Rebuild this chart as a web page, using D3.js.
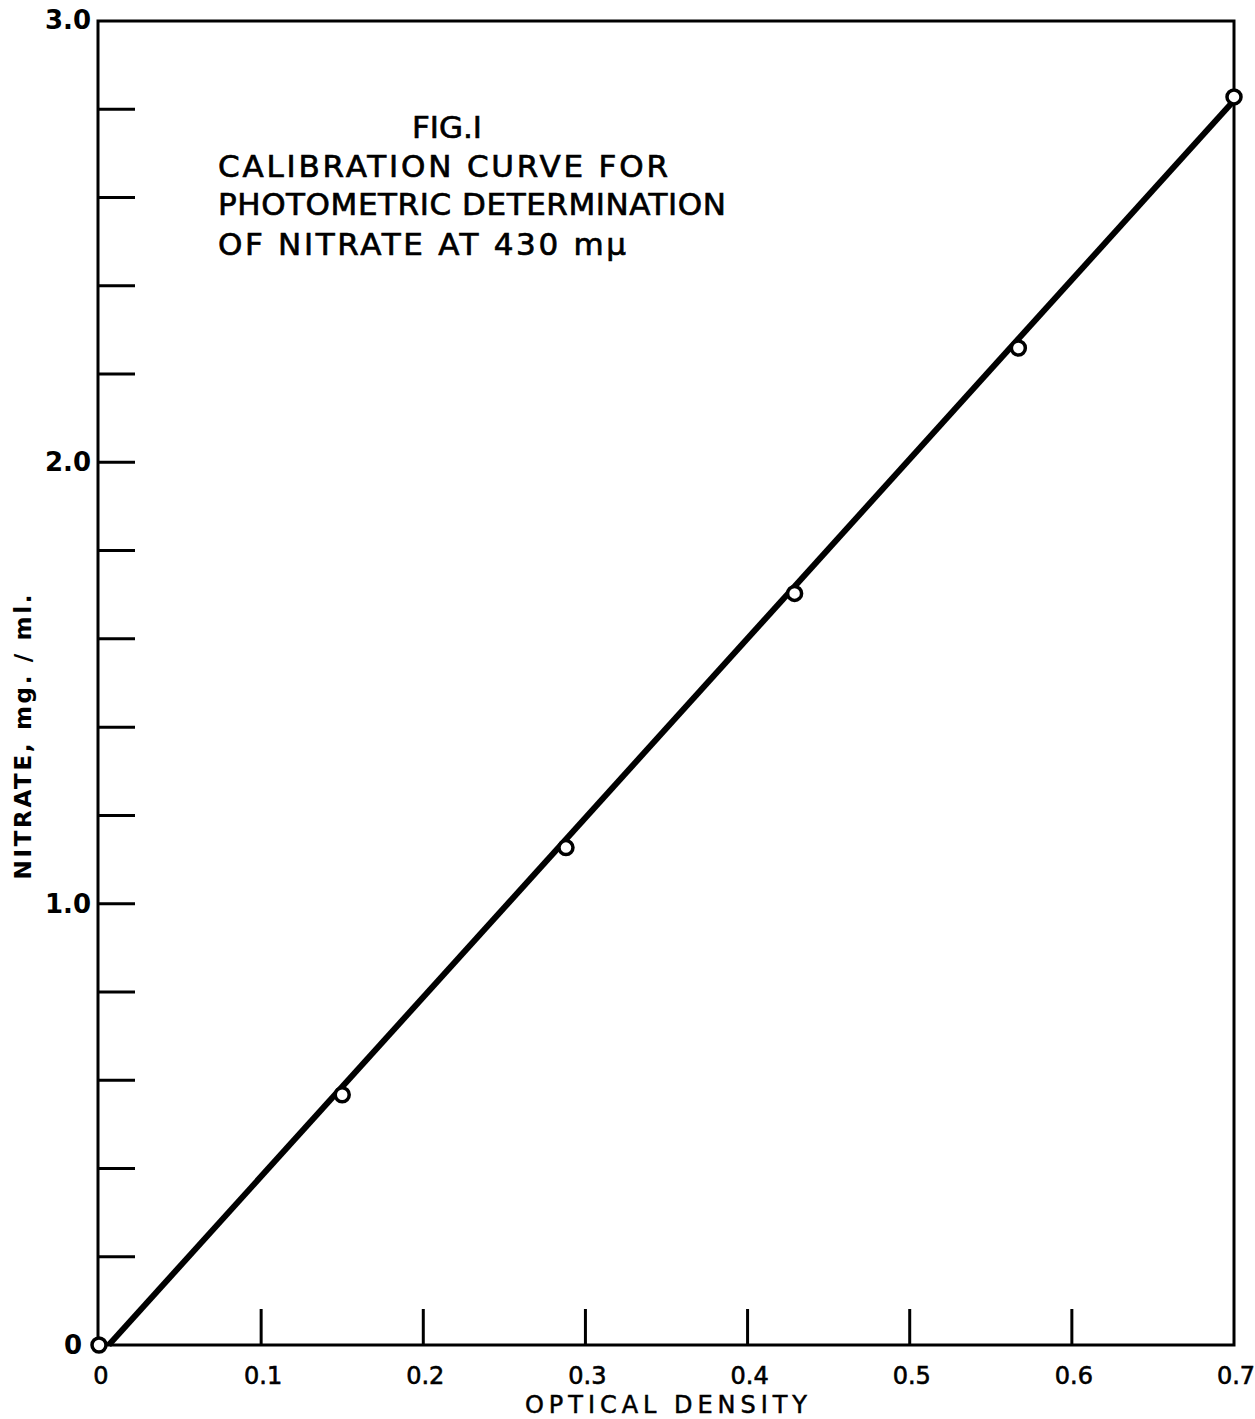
<!DOCTYPE html>
<html><head><meta charset="utf-8">
<script src="https://cdn.jsdelivr.net/npm/d3@7"></script>
<style>body{margin:0;background:#fff}svg{display:block}text{font-family:"DejaVu Sans",sans-serif;fill:#000}</style>
</head><body><svg id="c" width="1255" height="1419"></svg>
<script>
const odValues = [0, 0.15, 0.288, 0.429, 0.567, 0.70];
const nitrateValues = [0, 0.567, 1.127, 1.703, 2.259, 2.828];
const fitLine = [[0.006, 0], [0.70, 2.82]];
const xTickValues = [0, 0.1, 0.2, 0.3, 0.4, 0.5, 0.6, 0.7];
const xTickLabels = ["0", "0.1", "0.2", "0.3", "0.4", "0.5", "0.6", "0.7"];
const yTickValues = [0.2,0.4,0.6,0.8,1.0,1.2,1.4,1.6,1.8,2.0,2.2,2.4,2.6,2.8];
const yLabelValues = [0, 1.0, 2.0, 3.0];
const yLabelTexts = ["0", "1.0", "2.0", "3.0"];
const titleLines = ["FIG.I", "CALIBRATION  CURVE FOR", "PHOTOMETRIC  DETERMINATION", "OF NITRATE  AT  430 mμ"];

const svg = d3.select("#c");
const x = d3.scaleLinear().domain([0, 0.7]).range([99, 1234]);
const y = d3.scaleLinear().domain([0, 3.0]).range([1345, 21]);

// frame
svg.append("rect").attr("x", 98).attr("y", 21).attr("width", 1234-98).attr("height", 1345-21)
  .attr("fill", "none").attr("stroke", "#000").attr("stroke-width", 3);

// y ticks (inward)
svg.selectAll(".yt").data(yTickValues).enter().append("line")
  .attr("x1", 98).attr("x2", 135).attr("y1", d => y(d)).attr("y2", d => y(d))
  .attr("stroke", "#000").attr("stroke-width", 3);
// x ticks (inward, upward)
svg.selectAll(".xt").data(xTickValues.slice(1, -1)).enter().append("line")
  .attr("x1", d => x(d)).attr("x2", d => x(d)).attr("y1", 1345).attr("y2", 1309)
  .attr("stroke", "#000").attr("stroke-width", 3);

// y labels
svg.selectAll(".yl").data(yLabelValues).enter().append("text")
  .attr("x", (d,i) => i === 0 ? 82 : 91).attr("y", d => y(d) + (d === 3 ? 8 : 9))
  .attr("text-anchor", "end").attr("font-size", 26).attr("font-weight", "bold")
  .text((d,i) => yLabelTexts[i]);
// x labels
svg.selectAll(".xl").data(xTickValues).enter().append("text")
  .attr("x", d => x(d) + 2).attr("y", 1384)
  .attr("text-anchor", "middle").attr("font-size", 24)
  .attr("stroke", "#000").attr("stroke-width", 0.6)
  .text((d,i) => xTickLabels[i]);

// axis titles
svg.append("text").attr("x", 666).attr("y", 1413).attr("text-anchor", "middle")
  .attr("font-size", 24).attr("textLength", 282).attr("lengthAdjust", "spacing")
  .attr("stroke", "#000").attr("stroke-width", 0.5).text("OPTICAL  DENSITY");
svg.append("text").attr("transform", "translate(31,737) rotate(-90)").attr("text-anchor", "middle")
  .attr("font-size", 23).attr("font-weight", "bold").attr("textLength", 285).attr("lengthAdjust", "spacing")
  .text("NITRATE,  mg. / ml.");

// title
const tx = [412, 218, 218, 218], ty = [138, 177, 215, 255], tl = [70, 450, 508, 408];
titleLines.forEach((t, i) => {
  svg.append("text").attr("x", tx[i]).attr("y", ty[i]).attr("font-size", 31)
    .attr("stroke", "#000").attr("stroke-width", 0.7)
    .attr("textLength", tl[i]).attr("lengthAdjust", "spacing").text(t);
});

// fit line
svg.append("path").datum(fitLine)
  .attr("d", d3.line().x(d => x(d[0])).y(d => y(d[1])))
  .attr("stroke", "#000").attr("stroke-width", 6).attr("fill", "none");

// points
svg.selectAll(".pt").data(odValues).enter().append("circle")
  .attr("cx", d => x(d)).attr("cy", (d,i) => y(nitrateValues[i])).attr("r", 7)
  .attr("fill", "#fff").attr("stroke", "#000").attr("stroke-width", 3.5);
</script></body></html>
